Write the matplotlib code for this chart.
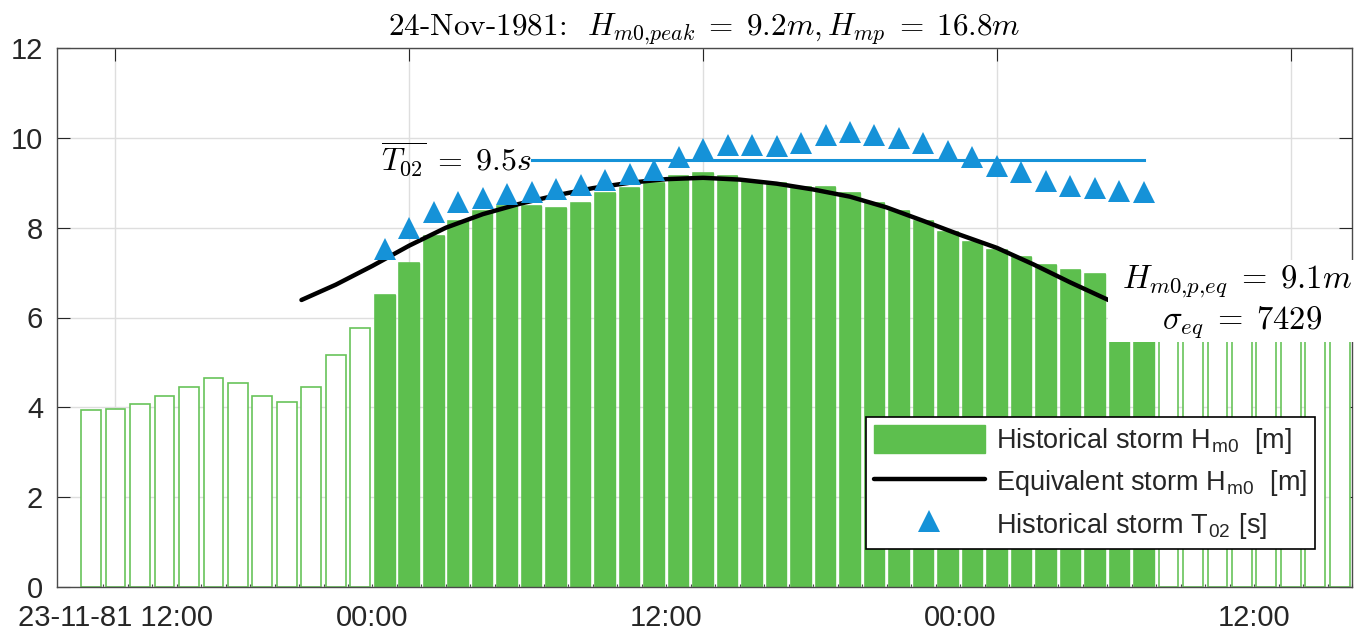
import numpy as np
import matplotlib.pyplot as plt
import matplotlib.dates as mdates
from matplotlib.patches import Rectangle
from matplotlib.transforms import ScaledTranslation

plt.rcParams['font.family'] = ['Liberation Sans', 'DejaVu Sans']
plt.rcParams['mathtext.fontset'] = 'cm'

# -------------------------------------------------------------
# Data: hourly sea state, 23-11-1981 11:00 -> 25-11-1981 14:00
# -------------------------------------------------------------
t_first = np.datetime64('1981-11-23T11:00')
times = t_first + np.arange(52).astype('timedelta64[h]')

hm0 = np.array([
    3.94, 3.96, 4.08, 4.25, 4.45, 4.66, 4.55, 4.25, 4.11, 4.46, 5.16, 5.76,
    6.49, 7.21, 7.82, 8.15, 8.37, 8.49, 8.49, 8.43, 8.55, 8.77, 8.89,
    8.99, 9.15, 9.21, 9.15, 9.03, 8.99, 8.90, 8.90, 8.77,
    8.55, 8.36, 8.14, 7.91, 7.69, 7.51, 7.34, 7.17, 7.05, 6.97, 6.95, 6.90,
    6.70, 6.50, 6.35, 6.20, 6.10, 6.00, 5.90, 5.80,
])

# storm window (indices into times)
storm_first, storm_last = 12, 43

t02 = np.array([
    7.53, 8.00, 8.34, 8.58, 8.66, 8.75, 8.80, 8.85, 8.96, 9.06,
    9.19, 9.29, 9.58, 9.75, 9.84, 9.84, 9.81, 9.88, 10.07, 10.14,
    10.07, 9.99, 9.88, 9.71, 9.58, 9.38, 9.23, 9.05, 8.92, 8.88,
    8.82, 8.80,
])
t02_mean = 9.5
t02_line_start = np.datetime64('1981-11-24T05:00')

# equivalent storm, hours after 23-11-1981 00:00
eq_hours = [19.6, 21.0, 22.5, 24.0, 25.5, 27.0, 28.5, 30.0, 31.5, 33.0, 34.5, 36.0,
            37.5, 39.0, 40.5, 42.0, 43.5, 45.0, 46.5, 48.0, 49.5, 51.0, 52.55]
eq_hm0 = [6.39, 6.73, 7.15, 7.60, 8.00, 8.30, 8.53, 8.72, 8.88, 9.00, 9.08, 9.11,
          9.07, 8.98, 8.85, 8.69, 8.45, 8.15, 7.84, 7.55, 7.18, 6.78, 6.39]
day0 = np.datetime64('1981-11-23T00:00')
eq_times = day0 + (np.array(eq_hours) * 60).round().astype('timedelta64[m]')

hm0_peak = 9.2
hmp = 16.8
hm0_eq = 9.1
sigma_eq = 7429

tick_times = np.array(['1981-11-23T12:00', '1981-11-24T00:00', '1981-11-24T12:00',
                       '1981-11-25T00:00', '1981-11-25T12:00'], dtype='datetime64[m]')
tick_labels = ['23-11-81 12:00', '00:00', '12:00', '00:00', '12:00']

# -------------------------------------------------------------
# Plot
# -------------------------------------------------------------
green = '#5dbf4e'
green_edge = '#68c35a'
blue = '#1592d8'
dark = '#262626'
hour = 1.0 / 24.0

fig = plt.figure(figsize=(13.61, 6.31), dpi=100)
ax = fig.add_axes([57 / 1361, 44 / 631, 1295 / 1361, 539 / 631])
ax.set_axisbelow(True)

ax.bar(times, hm0, width=0.8 * hour, facecolor='white', edgecolor=green_edge,
       linewidth=1.2, zorder=1)
storm = slice(storm_first, storm_last + 1)
bars = ax.bar(times[storm], hm0[storm], width=0.8 * hour, facecolor=green,
              edgecolor=green, linewidth=1.0, zorder=1.2,
              label=r'Historical storm H$_\mathregular{m0}$  [m]')
eq_line, = ax.plot(eq_times, eq_hm0, color='black', lw=3.2, solid_capstyle='round',
                   zorder=3, label=r'Equivalent storm H$_\mathregular{m0}$  [m]')
ax.plot([t02_line_start, times[storm_last]], [t02_mean, t02_mean], color=blue, lw=2.2, zorder=3)
tri, = ax.plot(times[storm], t02, ls='none', marker='^', ms=16, color=blue, mew=0,
               zorder=4, label=r'Historical storm T$_\mathregular{02}$ [s]')

# annotations
ax.annotate(r'$\overline{T_{02}}\;=\;%.1fs$' % t02_mean, xy=(t02_line_start, t02_mean),
            xytext=(0, -7), textcoords='offset points', ha='right', va='baseline',
            fontsize=23, math_fontfamily='cm', zorder=5)

# white background behind the equivalent-storm summary
box_left = mdates.date2num(day0 + np.timedelta64(int(52.55 * 60), 'm'))
ax.add_patch(Rectangle((box_left, 5.46), 12 * hour, 1.82, facecolor='white',
                       edgecolor='none', clip_on=False, zorder=3.5))
ax.text(np.datetime64('1981-11-25T14:30'), 6.65, r'$H_{m0{,}p{,}eq}\;=\;%.1fm$' % hm0_eq,
        ha='right', va='baseline', fontsize=23.5, math_fontfamily='cm', zorder=5,
        clip_on=False)
ax.text(np.datetime64('1981-11-25T10:00'), 5.76, r'$\sigma_{eq}\;=\;%d$' % sigma_eq,
        ha='center', va='baseline', fontsize=23.5, math_fontfamily='cm', zorder=5,
        clip_on=False)

ax.set_title(r'24-Nov-1981:  $H_{m0{,}peak}\;=\;%.1fm,H_{mp}\;=\;%.1fm$' % (hm0_peak, hmp),
             fontsize=22.5, fontfamily='cmr10', math_fontfamily='cm', pad=9)

# axes
ax.set_xlim(np.datetime64('1981-11-23T09:37'), np.datetime64('1981-11-25T14:24'))
ax.set_ylim(0, 12)
ax.set_yticks(np.arange(0, 13, 2))
ax.set_xticks(tick_times)
ax.set_xticklabels(tick_labels)
ax.set_xticks(times + np.timedelta64(30, 'm'), minor=True)

ax.tick_params(which='major', direction='in', length=9.5, width=0.8, color=dark,
               labelsize=21, labelcolor=dark, top=True, right=True, pad=10)
ax.tick_params(axis='x', which='major', pad=12.5)
ax.tick_params(which='minor', direction='in', length=2.5, width=0.8, color='#444444',
               top=False, bottom=True)
ax.grid(True, which='major', color='#dedede', lw=1.0)

for side in ['left', 'right', 'top', 'bottom']:
    ax.spines[side].set_color('#4a4a4a')
    ax.spines[side].set_linewidth(1.0)
ax.spines['right'].set_zorder(0.5)

shift = ScaledTranslation(-37 / 100, 0, fig.dpi_scale_trans)
for lbl in ax.get_xticklabels()[1:]:
    lbl.set_transform(lbl.get_transform() + shift)

leg = ax.legend(handles=[bars, eq_line, tri], loc='lower right',
                bbox_to_anchor=(0.9714, 0.0705), borderaxespad=0, fontsize=19.5,
                handlelength=4.1, handleheight=1.2, handletextpad=0.4,
                labelspacing=0.42, borderpad=0.3, fancybox=False, framealpha=1,
                edgecolor='black', labelcolor=dark)
leg.get_frame().set_linewidth(1.2)

plt.savefig('out.png', dpi=100)
